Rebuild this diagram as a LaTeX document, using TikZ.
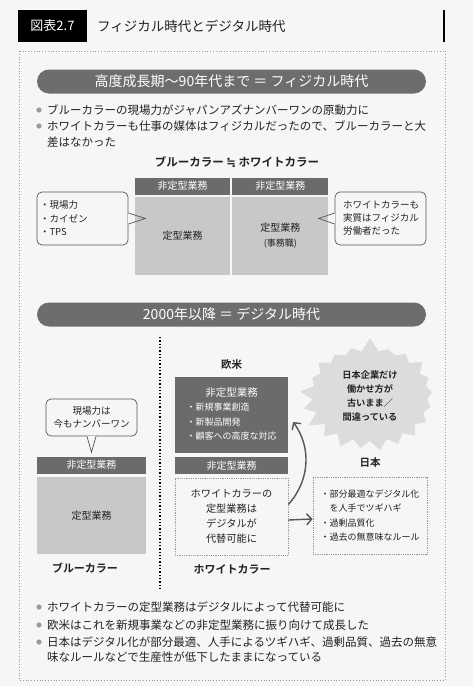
\documentclass[tikz,border=0pt]{standalone}
\usepackage{fontspec}
\setmainfont{Noto Sans CJK JP}[BoldFont={Noto Sans CJK JP Bold}]
\newfontfamily\symfont{DejaVu Sans}
\usetikzlibrary{positioning,arrows.meta,calc,shapes.symbols}
\definecolor{bgcol}{HTML}{F6F7F5}
\definecolor{pillgray}{HTML}{6D6D6D}
\definecolor{bargray}{HTML}{6B6B6B}
\definecolor{cellgray}{HTML}{C8C8C8}
\definecolor{burstgray}{HTML}{DCDCDC}
\definecolor{dotgray}{HTML}{9A9A9A}
\definecolor{inkgray}{HTML}{222222}
\definecolor{linegray}{HTML}{555555}
\newcommand{\fs}[2]{\fontsize{#1}{#2}\selectfont}

\begin{document}
\begin{tikzpicture}[x=1pt, y=-1pt,
  font=\fs{11.5}{16}, text=inkgray,
  pill/.style={fill=pillgray, rounded corners=12pt, text=white, minimum width=389pt, minimum height=24pt, inner sep=0pt, font=\fs{14}{16}},
  bar/.style={fill=bargray, text=white, minimum height=17pt, inner sep=0pt, font=\fs{10}{12}},
  cell/.style={fill=cellgray, minimum height=78pt, inner sep=0pt, align=center, font=\fs{10}{14}},
  note/.style={draw=linegray, line width=0.7pt, rounded corners=5pt, fill=bgcol, inner sep=0pt},
  dotbox/.style={draw=dotgray, densely dotted, line width=0.8pt, minimum width=113pt, minimum height=77pt, inner sep=0pt},
  item/.style={anchor=base west, align=left, inner sep=0pt},
  headline/.style={font=\bfseries\fs{11}{13}},
  >={Straight Barb[length=5pt,width=11pt]}]
\fill[bgcol] (0,0) rectangle (473,686);
\useasboundingbox (0,0) rectangle (473,686);

% title row
\node[fill=black, text=white, minimum width=69pt, minimum height=32pt, inner sep=0pt, font=\fs{13}{15}] (fig) at (52.5,26) {図表2.7};
\node[anchor=west, inner sep=0pt, font=\fs{13.5}{16}] (title) at (97,26) {フィジカル時代とデジタル時代};
\draw[line width=2.5pt] (444,10) -- (444,42);
\draw[dotgray, dotted, line width=0.8pt] (19,51) rectangle (445,680);

% physical era
\node[pill] (era1) at (231.5,81.5) {高度成長期～90年代まで ＝ フィジカル時代};
\node[item] (top1) at (47,114.4) {ブルーカラーの現場力がジャパンアズナンバーワンの原動力に};
\node[item] (top2) at (47,146.4) {ホワイトカラーも仕事の媒体はフィジカルだったので、ブルーカラーと大\\差はなかった};
\fill[dotgray] ($(top1.base west)+(-8,-4.4)$) circle (2.6);
\fill[dotgray] ($(top2.base west)+(-8,-20.4)$) circle (2.6);

\node[headline, font=\bfseries\fs{11.5}{14}] (eq) at (237,162) {ブルーカラー {\symfont ≒} ホワイトカラー};
\node[bar, minimum width=95pt] (hdrL) at (182.5,186) {非定型業務};
\node[bar, minimum width=96pt, right=2pt of hdrL] (hdrR) {非定型業務};
\node[cell, minimum width=95pt, below=2pt of hdrL] (cellL) {定型業務};
\node[cell, minimum width=96pt, below=2pt of hdrR] (cellR) {定型業務\\[1pt]{\fs{9}{12}(事務職)}};

\node[note, minimum width=91pt, minimum height=53pt, text width=85pt, align=left, font=\fs{9.5}{13.5}] (noteL) at (82.5,218.5) {・現場力\\・カイゼン\\・TPS};
\node[note, minimum width=91pt, minimum height=53pt, text width=75pt, align=left, font=\fs{9.5}{13}] (noteR) at (380.5,218.5) {ホワイトカラーも\\実質はフィジカル\\労働者だった};
\draw[bgcol, line width=1.5pt] ($(noteL.east)+(0,-5.5)$) -- ($(noteL.east)+(0,5.5)$);
\draw[linegray, line width=0.7pt] ($(noteL.east)+(0,-5.5)$) -- ($(noteL.east)+(17,0)$) -- ($(noteL.east)+(0,5.5)$);
\draw[bgcol, line width=1.5pt] ($(noteR.west)+(0,-5.5)$) -- ($(noteR.west)+(0,5.5)$);
\draw[linegray, line width=0.7pt] ($(noteR.west)+(0,-5.5)$) -- ($(noteR.west)+(-16,0)$) -- ($(noteR.west)+(0,5.5)$);

% digital era
\node[pill] (era2) at (231.5,314.5) {2000年以降 ＝ デジタル時代};
\coordinate (divTop) at (160,337);
\coordinate (divBot) at (160,588);
\draw[black, line width=1.3pt, dash pattern=on 1.3pt off 2pt] (divTop) -- (divBot);

% blue collar
\node[note, minimum width=91pt, minimum height=37pt, align=center, font=\fs{9.5}{12.5}] (genba) at (91.5,417.5) {現場力は\\今もナンバーワン};
\draw[bgcol, line width=1.5pt] ($(genba.south)+(-4.5,0)$) -- ($(genba.south)+(4.5,0)$);
\draw[linegray, line width=0.7pt] ($(genba.south)+(-4.5,0)$) -- ($(genba.south)+(0,16)$) -- ($(genba.south)+(4.5,0)$);
\node[bar, minimum width=109pt] (blueBar) at (91.5,465) {非定型業務};
\node[cell, minimum width=109pt, minimum height=77pt, below=3pt of blueBar] (blueCell) {定型業務};
\node[headline] (blueLbl) at (85,568) {ブルーカラー};

% white collar
\node[headline, font=\bfseries\fs{10.5}{12}] (euLbl) at (231.5,365) {欧米};
\node[fill=bargray, text=white, minimum width=113pt, minimum height=76pt, inner sep=0pt, font=\fs{9}{14.5}] (euBox) at (231.5,415) {\begin{tabular}{@{}l@{}}\multicolumn{1}{@{}c@{}}{\fs{10.5}{14.5}非定型業務}\\・新規事業創造\\・新製品開発\\・顧客への高度な対応\end{tabular}};
\node[bar, minimum width=113pt, below=4pt of euBox] (euBar) {非定型業務};
\node[dotbox, below=3pt of euBar, align=center, font=\fs{10.2}{15}] (whBox) {ホワイトカラーの\\定型業務は\\デジタルが\\代替可能に};
\node[headline] (whLbl) at (232,569) {ホワイトカラー};

% japan
\node[starburst, fill=burstgray, starburst points=21, starburst point height=14pt, random starburst=7, align=center, font=\bfseries\fs{9.2}{13.7}, inner xsep=13pt, inner ysep=7pt] (burst) at (370,396) {日本企業だけ\\働かせ方が\\古いまま／\\間違っている};
\node[headline, font=\bfseries\fs{10.5}{12}] (jpLbl) at (370,463) {日本};
\node[dotbox, minimum width=114pt, align=left, font=\fs{9}{14.3}] (jpBox) at (370,515.5) {・部分最適なデジタル化\\\hspace*{1em}を人手でツギハギ\\・過剰品質化\\・過去の無意味なルール};

\draw[->, linegray, line width=1.4pt] ($(whBox.east)+(0,3.5)$) -- ($(jpBox.west)+(0,3.5)$);
\draw[->, linegray, line width=1.4pt] ($(whBox.east)+(0,-12)$) .. controls +(22,-25) and +(18,25) .. ($(euBox.east)+(5,7)$);

% summary
\node[item] (bot1) at (47,611.4) {ホワイトカラーの定型業務はデジタルによって代替可能に};
\node[item] (bot2) at (47,629.4) {欧米はこれを新規事業などの非定型業務に振り向けて成長した};
\node[item, font=\fs{11.5}{15.5}] (bot3) at (47,661.9) {日本はデジタル化が部分最適、人手によるツギハギ、過剰品質、過去の無意\\味なルールなどで生産性が低下したままになっている};
\fill[dotgray] ($(bot1.base west)+(-8,-4.4)$) circle (2.6);
\fill[dotgray] ($(bot2.base west)+(-8,-4.4)$) circle (2.6);
\fill[dotgray] ($(bot3.base west)+(-8,-19.9)$) circle (2.6);
\end{tikzpicture}
\end{document}
